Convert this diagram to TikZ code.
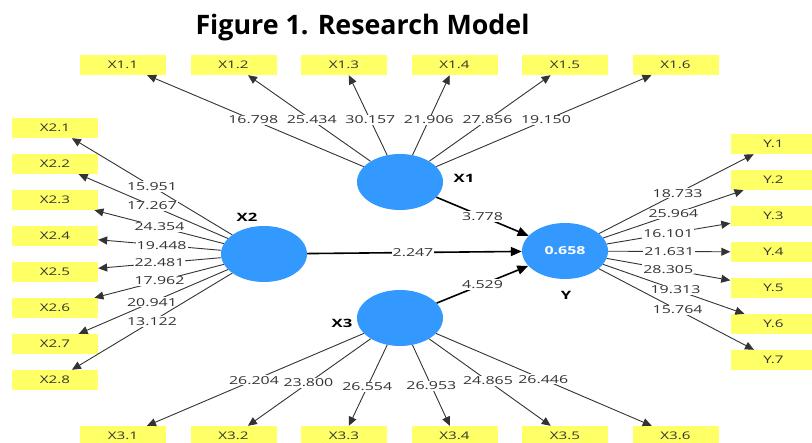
\documentclass[tikz,border=0pt]{standalone}
\usepackage{fontspec}
\setmainfont{Open Sans}
\newfontfamily\wideopen[FakeStretch=1.45]{Open Sans}
\usepackage{tikz}
\usetikzlibrary{shapes.geometric, arrows.meta, calc}

\definecolor{lvblue}{RGB}{51,153,255}
\definecolor{mvyellow}{RGB}{255,255,102}
\tikzset{
  latent/.style={ellipse, fill=lvblue, minimum width=86pt, minimum height=56pt, inner sep=0pt},
  indic/.style={rectangle, fill=mvyellow, minimum width=86pt, minimum height=20pt, inner sep=0pt,
    text=black!80, font=\wideopen\fontsize{10.5}{12}\selectfont},
  lvname/.style={inner sep=0pt, font=\wideopen\bfseries\fontsize{11.5}{13}\selectfont},
  weight/.style={fill=white, inner sep=1pt, text=black!80, font=\wideopen\fontsize{11}{12}\selectfont},
  loadarr/.style={draw=black!80, line width=0.9pt, -{Triangle[length=9pt,width=8pt]}},
  patharr/.style={draw=black, line width=1.6pt, -{Triangle[length=11pt,width=9pt]}}
}

\begin{document}
\begin{tikzpicture}[x=1pt, y=-1pt]
\useasboundingbox (0,0) rectangle (812,443);

\node[anchor=base, font=\bfseries\fontsize{26.8}{32}\selectfont] (title) at (362.5,35) {Figure 1. Research Model};

% constructs
\node[latent] (X1) at (400,182) {};
\node[latent] (X2) at (264,254) {};
\node[latent] (X3) at (400,318) {};
\node[latent, text=white, font=\wideopen\bfseries\fontsize{11}{13}\selectfont] (Y) at (565,251) {0.658};

\node[lvname] (X1name) at (464,178) {X1};
\node[lvname] (X2name) at (247,217) {X2};
\node[lvname] (X3name) at (342,323) {X3};
\node[lvname] (Yname) at (566,295) {Y};

% indicators
\foreach \i in {1,...,6} {
  \node[indic] (x1-\i) at ({123+110.5*(\i-1)},65) {X1.\i};
  \node[indic] (x3-\i) at ({123+110.5*(\i-1)},436) {X3.\i};
}
\foreach \i in {1,...,8}
  \node[indic] (x2-\i) at (55,{128+36*(\i-1)}) {X2.\i};
\foreach \i in {1,...,7}
  \node[indic] (y-\i) at (773.5,{144+36*(\i-1)}) {Y.\i};

% outer loadings
\foreach \i/\t/\v in {1/.53/16.798, 2/.53/25.434, 3/.53/30.157, 4/.53/21.906, 5/.53/27.856, 6/.53/19.150} {
  \draw[loadarr] (X1) -- (x1-\i);
  \node[weight] (w1-\i) at ($(X1)!\t!(x1-\i)$) {\v};
}
\foreach \i/\t/\v in {1/.536/15.951, 2/.536/17.267, 3/.50/24.354, 4/.49/19.448, 5/.50/22.481, 6/.50/17.962, 7/.536/20.941, 8/.536/13.122} {
  \draw[loadarr] (X2) -- (x2-\i);
  \node[weight] (w2-\i) at ($(X2)!\t!(x2-\i)$) {\v};
}
\foreach \i/\t/\v in {1/.527/26.204, 2/.55/23.800, 3/.585/26.554, 4/.576/26.953, 5/.533/24.865, 6/.52/26.446} {
  \draw[loadarr] (X3) -- (x3-\i);
  \node[weight] (w3-\i) at ($(X3)!\t!(x3-\i)$) {\v};
}
\foreach \i/\t/\v in {1/.54/18.733, 2/.52/25.964, 3/.495/16.101, 4/.50/21.631, 5/.495/28.305, 6/.53/19.313, 7/.54/15.764} {
  \draw[loadarr] (Y) -- (y-\i);
  \node[weight] (wy-\i) at ($(Y)!\t!(y-\i)$) {\v};
}

% inner model
\draw[patharr] (X1) -- (Y);
\draw[patharr] (X2) -- (Y);
\draw[patharr] (X3) -- (Y);
\node[weight] (b1) at ($(X1)!.5!(Y)$) {3.778};
\node[weight] (b2) at ($(X2)!.495!(Y)$) {2.247};
\node[weight] (b3) at ($(X3)!.5!(Y)$) {4.529};

\end{tikzpicture}
\end{document}
